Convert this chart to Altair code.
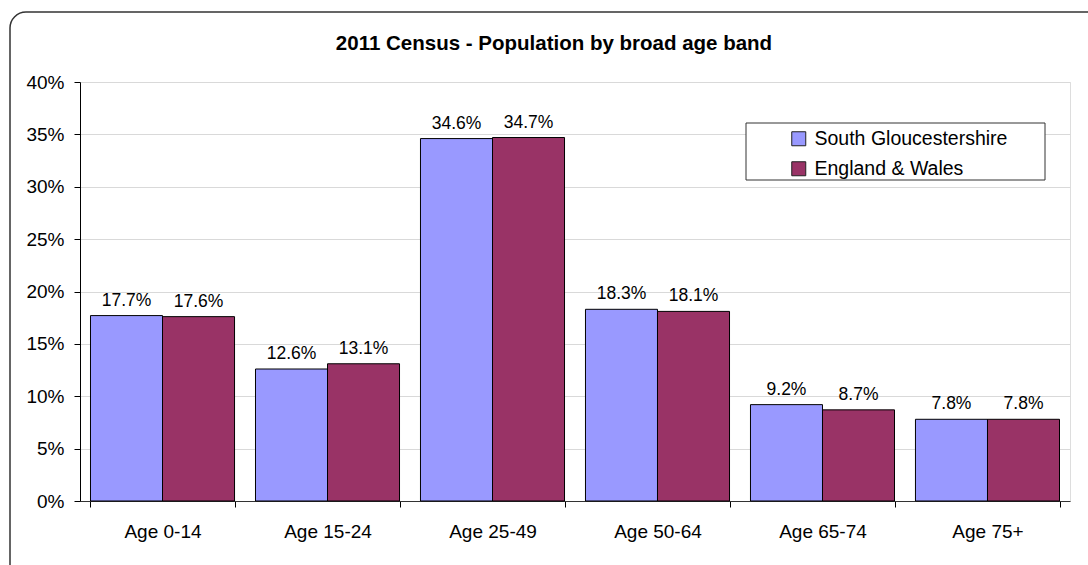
import altair as alt
import pandas as pd

categories = ["Age 0-14", "Age 15-24", "Age 25-49", "Age 50-64", "Age 65-74", "Age 75+"]
series_names = ["South Gloucestershire", "England & Wales"]
south_glos = [17.7, 12.6, 34.6, 18.3, 9.2, 7.8]
eng_wales = [17.6, 13.1, 34.7, 18.1, 8.7, 7.8]
y_ticks = [0, 5, 10, 15, 20, 25, 30, 35, 40]

rows = []
for c, a, b in zip(categories, south_glos, eng_wales):
    rows.append({"band": c, "series": series_names[0], "value": a})
    rows.append({"band": c, "series": series_names[1], "value": b})
df = pd.DataFrame(rows)

FONT = "Liberation Sans"
W, H = 990, 419

x_enc = alt.X("band:N", sort=categories,
              scale=alt.Scale(paddingInner=0.127, paddingOuter=0.0636),
              axis=alt.Axis(title=None, labelAngle=0, labelFontSize=19, labelFont=FONT,
                            labelColor="#000", tickBand="extent", tickSize=6,
                            tickColor="#000", domainColor="#333", labelPadding=15,
                            grid=False))
xoff_enc = alt.XOffset("series:N", sort=series_names, scale=alt.Scale(paddingInner=0, paddingOuter=0))
y_enc = alt.Y("value:Q", scale=alt.Scale(domain=[0, 40], nice=False),
              axis=alt.Axis(title=None, values=y_ticks, labelExpr="datum.value + '%'",
                            labelFontSize=19, labelFont=FONT, labelColor="#000",
                            tickSize=6, tickColor="#000", domainColor="#000",
                            labelPadding=10, gridColor="#d9d9d9", grid=True))
color_enc = alt.Color("series:N", sort=series_names,
                      scale=alt.Scale(domain=series_names, range=["#9999FF", "#993366"]),
                      legend=alt.Legend(title=None, orient="none", legendX=709, legendY=47,
                                        symbolType="square", symbolSize=196,
                                        symbolStrokeColor="#222", symbolStrokeWidth=1,
                                        labelFontSize=19.5, labelFont=FONT, labelColor="#000",
                                        labelOffset=6, rowPadding=9, padding=0,
                                        labelLimit=400))

base = alt.Chart(df)

bars = base.mark_bar(stroke="#000", strokeWidth=1).encode(
    x=x_enc, xOffset=xoff_enc, y=y_enc, color=color_enc
)

labels = base.transform_calculate(
    label="format(datum.value, '.1f') + '%'"
).mark_text(baseline="alphabetic", dy=-10, fontSize=17.5, font=FONT, color="#000").encode(
    x=alt.X("band:N", sort=categories), xOffset=alt.XOffset("series:N", sort=series_names),
    y="value:Q", text="label:N"
)

outer = alt.Chart(pd.DataFrame({"k": [0]})).mark_rect(
    fill=None, stroke="#333", strokeWidth=1.5, cornerRadius=16
).encode(x=alt.value(-70), x2=alt.value(1025), y=alt.value(-70), y2=alt.value(500))

legend_box = alt.Chart(pd.DataFrame({"k": [0]})).mark_rect(
    fill="#ffffff", stroke="#333", strokeWidth=1
).encode(x=alt.value(666), x2=alt.value(965), y=alt.value(41), y2=alt.value(98))

chart = alt.layer(outer, legend_box, bars, labels).properties(
    width=W, height=H,
    title=alt.TitleParams("2011 Census - Population by broad age band", anchor="middle",
                          frame="group", dx=-21, offset=-59, baseline="alphabetic",
                          fontSize=20.5, font=FONT, fontWeight="bold", color="#000"),
    autosize=alt.AutoSizeParams(type="none"),
    padding={"left": 80, "top": 82, "right": 18, "bottom": 64},
).configure_view(stroke=None).configure(background="#ffffff")

chart.save("out.html", embed_options={"renderer": "svg", "actions": False})
